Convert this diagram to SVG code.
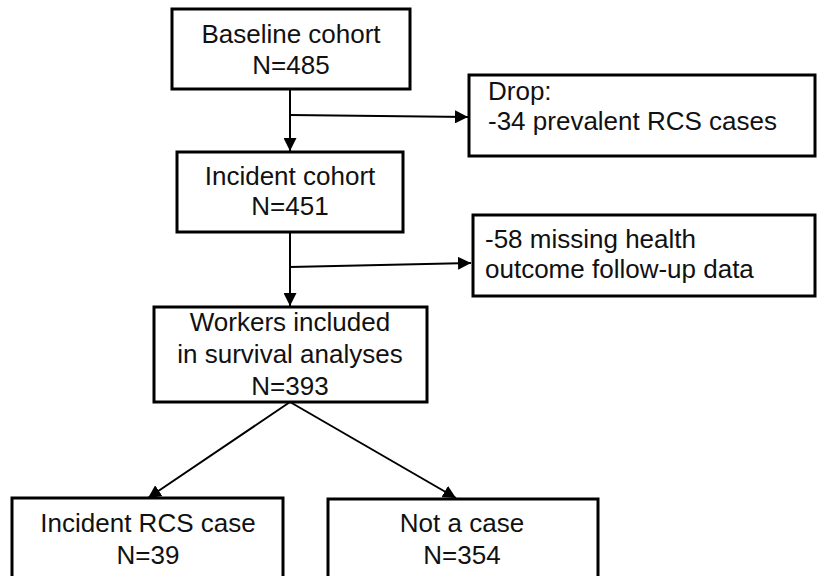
<svg xmlns="http://www.w3.org/2000/svg" width="818" height="576" viewBox="0 0 818 576">
<defs>
<marker id="ah" viewBox="0 0 12 12" refX="12" refY="6" markerWidth="13" markerHeight="13" markerUnits="userSpaceOnUse" orient="auto">
<path d="M0,0 L12,6 L0,12 Z" fill="#000"/>
</marker>
<style>
.box{fill:#fff;stroke:#000;stroke-width:3}
.t{font-family:"Liberation Sans",Arial,sans-serif;font-size:26px;fill:#111}
.c{text-anchor:middle}
.ln{stroke:#000;stroke-width:2;fill:none}
</style>
</defs>
<rect width="818" height="576" fill="#fff"/>
<g id="connectors">
<line class="ln" x1="290" y1="90" x2="290" y2="151" marker-end="url(#ah)"/>
<line class="ln" x1="290" y1="115" x2="468" y2="117" marker-end="url(#ah)"/>
<line class="ln" x1="290" y1="232" x2="290" y2="306" marker-end="url(#ah)"/>
<line class="ln" x1="290" y1="267" x2="471" y2="263" marker-end="url(#ah)"/>
<line class="ln" x1="290" y1="402" x2="148" y2="498" marker-end="url(#ah)"/>
<line class="ln" x1="290" y1="402" x2="456" y2="498" marker-end="url(#ah)"/>
</g>
<g id="baseline">
<rect class="box" x="172" y="9" width="238" height="80"/>
<text class="t c" x="291" y="43">Baseline cohort</text>
<text class="t c" x="291" y="74">N=485</text>
</g>
<g id="drop">
<rect class="box" x="469" y="75" width="346" height="81"/>
<text class="t" x="488" y="100">Drop:</text>
<text class="t" x="488" y="130">-34 prevalent RCS cases</text>
</g>
<g id="incident">
<rect class="box" x="177" y="152" width="226" height="80"/>
<text class="t c" x="290" y="185">Incident cohort</text>
<text class="t c" x="290" y="215">N=451</text>
</g>
<g id="missing">
<rect class="box" x="473" y="215" width="342" height="81"/>
<text class="t" x="485" y="248">-58 missing health</text>
<text class="t" x="485" y="278">outcome follow-up data</text>
</g>
<g id="workers">
<rect class="box" x="154" y="307" width="273" height="95"/>
<text class="t c" x="290" y="331">Workers included</text>
<text class="t c" x="290" y="363">in survival analyses</text>
<text class="t c" x="290" y="395">N=393</text>
</g>
<g id="case">
<rect class="box" x="12" y="498" width="271" height="90"/>
<text class="t c" x="148" y="532">Incident RCS case</text>
<text class="t c" x="148" y="564">N=39</text>
</g>
<g id="notcase">
<rect class="box" x="328" y="499" width="270" height="90"/>
<text class="t c" x="462" y="532">Not a case</text>
<text class="t c" x="462" y="564">N=354</text>
</g>
</svg>
